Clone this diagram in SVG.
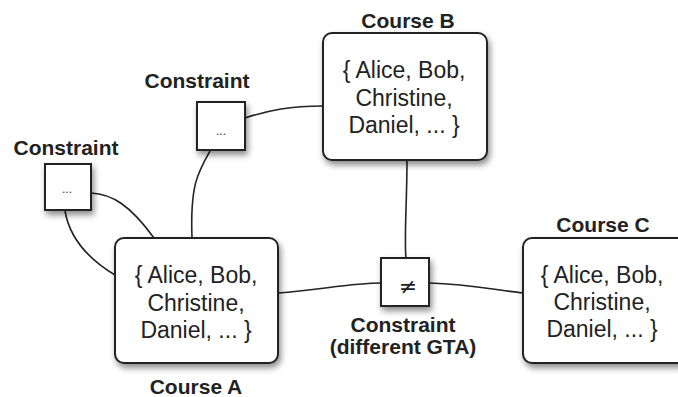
<svg xmlns="http://www.w3.org/2000/svg" width="678" height="397" viewBox="0 0 678 397">
<defs>
<filter id="sh" x="-20%" y="-20%" width="150%" height="150%">
<feDropShadow dx="2" dy="4" stdDeviation="3" flood-color="#000" flood-opacity="0.45"/>
</filter>
<style>
.box{fill:#fff;stroke:#222;stroke-width:2;filter:url(#sh)}
.lbl{font-family:'Liberation Sans',Arial,Helvetica,sans-serif;font-weight:bold;font-size:21px;fill:#222;text-anchor:middle}
.set{font-family:'Liberation Sans',Arial,Helvetica,sans-serif;font-size:23px;fill:#222;text-anchor:middle}
.dots{font-family:'Liberation Sans',Arial,Helvetica,sans-serif;font-size:12px;fill:#333;text-anchor:middle}
.sym{font-family:'DejaVu Sans','Liberation Sans',sans-serif;font-size:22px;fill:#222;text-anchor:middle}
.edge{fill:none;stroke:#222;stroke-width:1.6}
</style>
</defs>
<rect width="678" height="397" fill="#fff"/>
<g id="connectors">
<path class="edge" d="M91,193 C112,194 130,205 154,238"/>
<path class="edge" d="M65,211 C70,240 90,260 115,275"/>
<path class="edge" d="M210,151 C198,172 190,185 192,238"/>
<path class="edge" d="M245,118 C270,110 290,106 323,106"/>
<path class="edge" d="M407,160 C407,200 404,240 406,258"/>
<path class="edge" d="M278,293 C320,290 350,283 381,283"/>
<path class="edge" d="M429,283 C470,284 495,290 523,293"/>
</g>
<g id="courseA">
<rect class="box" x="115" y="238" width="163" height="125" rx="9"/>
<text class="set" x="196" y="283">{ Alice, Bob,</text>
<text class="set" x="196" y="311">Christine,</text>
<text class="set" x="196" y="338">Daniel, ... }</text>
<text class="lbl" x="196" y="394">Course A</text>
</g>
<g id="courseB">
<rect class="box" x="323" y="33" width="164" height="127" rx="9"/>
<text class="set" x="404" y="78">{ Alice, Bob,</text>
<text class="set" x="404" y="106">Christine,</text>
<text class="set" x="404" y="133">Daniel, ... }</text>
<text class="lbl" x="408" y="28">Course B</text>
</g>
<g id="courseC">
<rect class="box" x="523" y="238" width="164" height="125" rx="9"/>
<text class="set" x="602" y="283">{ Alice, Bob,</text>
<text class="set" x="602" y="310">Christine,</text>
<text class="set" x="602" y="337">Daniel, ... }</text>
<text class="lbl" x="603" y="232">Course C</text>
</g>
<g id="constraintLeft">
<rect class="box" x="45" y="164" width="46" height="46"/>
<text class="dots" x="67" y="193">...</text>
<text class="lbl" x="66" y="155">Constraint</text>
</g>
<g id="constraintTop">
<rect class="box" x="197" y="102" width="48" height="48"/>
<text class="dots" x="221" y="135">...</text>
<text class="lbl" x="197" y="88">Constraint</text>
</g>
<g id="constraintGTA">
<rect class="box" x="381" y="258" width="48" height="48"/>
<text class="sym" x="408" y="294">≠</text>
<text class="lbl" x="403" y="332">Constraint</text>
<text class="lbl" x="403" y="354">(different GTA)</text>
</g>
</svg>
